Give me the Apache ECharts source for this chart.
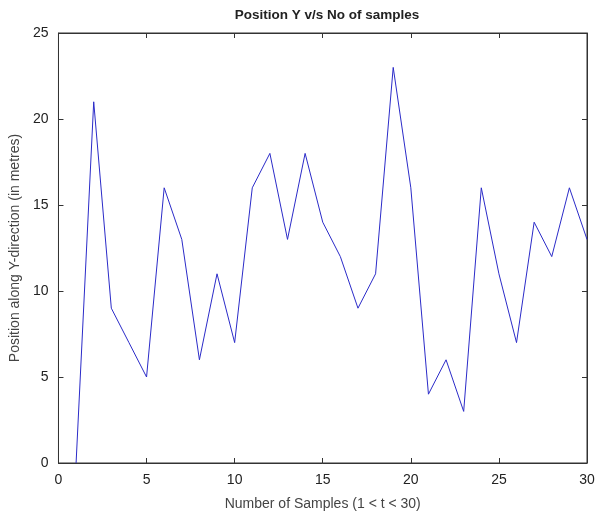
<!DOCTYPE html>
<html><head><meta charset="utf-8">
<script src="https://cdn.jsdelivr.net/npm/echarts@6/dist/echarts.min.js"></script>
<style>html,body{margin:0;padding:0;background:#fff}#c{width:599px;height:519px}</style>
</head><body><div id="c"></div>
<script>
const samples = [1,2,3,4,5,6,7,8,9,10,11,12,13,14,15,16,17,18,19,20,21,22,23,24,25,26,27,28,29,30];
const positionY = [0,21,9,7,5,16,13,6,11,7,16,18,13,18,14,12,9,11,23,16,4,6,3,16,11,7,14,12,16,13];
const xTicks = [0,5,10,15,20,25,30];
const yTicks = [0,5,10,15,20,25];

const chart = echarts.init(document.getElementById('c'), null, {renderer:'canvas'});
const axisLine = () => ({show:true, onZero:false, lineStyle:{color:'#333', width:1}});
const tick = () => ({show:true, inside:true, length:5, lineStyle:{color:'#333', width:1}});
const lbl = () => ({show:true, margin:10, color:'#222', fontFamily:'Liberation Sans, Arial', fontSize:14});
const xr = {type:'value', min:xTicks[0], max:xTicks[xTicks.length-1], interval:xTicks[1]-xTicks[0]};
const yr = {type:'value', min:yTicks[0], max:yTicks[yTicks.length-1], interval:yTicks[1]-yTicks[0]};
chart.setOption({
  animation:false,
  title:{text:'Position Y v/s No of samples', left:322, top:3, textAlign:'center',
    textStyle:{fontFamily:'Liberation Sans, Arial', fontSize:13.5, fontWeight:'bold', color:'#222'}},
  grid:{left:58, right:12, top:33, bottom:56, show:true, borderColor:'#333', borderWidth:1, backgroundColor:'transparent'},
  xAxis:[
    Object.assign({}, xr, {position:'bottom', gridIndex:0,
     name:'Number of Samples (1 < t < 30)', nameLocation:'middle', nameGap:34,
     nameTextStyle:{color:'#444', fontFamily:'Liberation Sans, Arial', fontSize:14},
     axisLine:axisLine(), axisTick:tick(), axisLabel:lbl(), splitLine:{show:false}}),
    Object.assign({}, xr, {position:'top', gridIndex:0,
     axisLine:axisLine(), axisTick:tick(), axisLabel:{show:false}, splitLine:{show:false}})
  ],
  yAxis:[
    Object.assign({}, yr, {position:'left', gridIndex:0,
     name:'Position along Y-direction (in metres)', nameLocation:'middle', nameGap:34,
     nameTextStyle:{color:'#444', fontFamily:'Liberation Sans, Arial', fontSize:14},
     axisLine:axisLine(), axisTick:tick(), axisLabel:lbl(), splitLine:{show:false}}),
    Object.assign({}, yr, {position:'right', gridIndex:0,
     axisLine:axisLine(), axisTick:tick(), axisLabel:{show:false}, splitLine:{show:false}})
  ],
  series:[
    {type:'line', xAxisIndex:0, yAxisIndex:0, data:samples.map((s,i)=>[s, positionY[i]]), showSymbol:false,
     lineStyle:{color:'#2b2bc8', width:1}, clip:true},
    {type:'line', xAxisIndex:1, yAxisIndex:1, data:[], showSymbol:false}
  ]
});
</script></body></html>
